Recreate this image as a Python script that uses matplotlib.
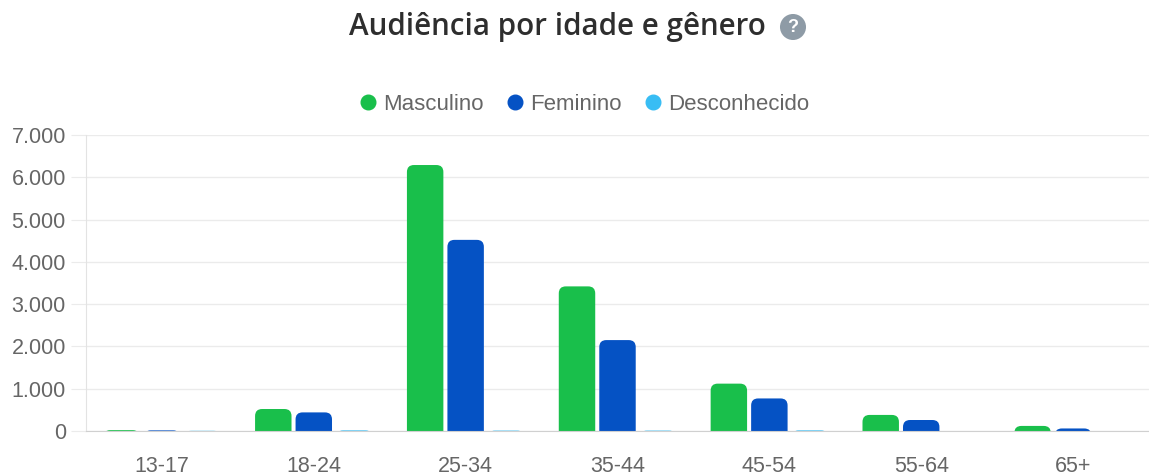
import numpy as np
import matplotlib
matplotlib.use('Agg')
import matplotlib.pyplot as plt
from matplotlib.patches import FancyBboxPatch
from matplotlib.lines import Line2D
from matplotlib.ticker import FuncFormatter

# dados
faixas = ['13-17', '18-24', '25-34', '35-44', '45-54', '55-64', '65+']
masculino = [20, 520, 6290, 3420, 1120, 380, 120]
feminino = [15, 440, 4520, 2150, 770, 260, 60]
desconhecido = [5, 15, 10, 10, 15, 0, 0]
series = ['Masculino', 'Feminino', 'Desconhecido']
cores = ['#19bf4b', '#0552c4', '#38bdf4']

plt.rcParams['font.family'] = ['Liberation Sans', 'DejaVu Sans']

W, H = 1149, 475
fig = plt.figure(figsize=(W / 100, H / 100), dpi=100)
ax = fig.add_axes([86 / W, 1 - 431 / H, (1149 - 86) / W, (431 - 135) / H])

x = np.arange(len(faixas))
largura = 0.8 / 3
raio_px = 7

ax.set_xlim(-0.5, len(faixas) - 0.5)
ax.set_ylim(0, 7000)

# escala px -> dados para cantos arredondados
px_x = (len(faixas)) / ((1149 - 86))
px_y = 7000 / (431 - 135)
aspecto = px_y / px_x

for i, (vals, cor) in enumerate(zip([masculino, feminino, desconhecido], cores)):
    barras = ax.bar(x + (i - 1) * largura, vals, width=largura * 0.9, color='none')
    for b, v in zip(barras, vals):
        r = raio_px * px_x
        bx, bw = b.get_x(), b.get_width()
        p = FancyBboxPatch((bx + r, -raio_px * px_y * 2), bw - 2 * r,
                           v + raio_px * px_y * 2 - r * aspecto,
                           boxstyle='round,pad=%f,rounding_size=%f' % (r, r),
                           mutation_aspect=aspecto, fc=cor, ec='none', zorder=2)
        ax.add_patch(p)
        b.remove()

ax.set_yticks(np.arange(0, 7001, 1000))
ax.yaxis.set_major_formatter(FuncFormatter(lambda v, p: f'{int(v):,}'.replace(',', '.')))
ax.set_xticks(x)
ax.set_xticklabels(faixas)
ax.grid(axis='y', color='#ebebeb', linewidth=1, zorder=0)
ax.set_axisbelow(True)
ax.tick_params(axis='y', length=10.5, color='#ebebeb', labelsize=15.5, labelcolor='#666666', pad=4)
ax.tick_params(axis='x', length=0, labelsize=15.5, labelcolor='#666666', pad=18)
for s in ['top', 'right']:
    ax.spines[s].set_visible(False)
ax.spines['left'].set_color('#e3e3e3')
ax.spines['bottom'].set_color('#d0d0d0')

# legenda
handles = [Line2D([], [], marker='o', ls='none', markersize=10.5, color=c) for c in cores]
fig.legend(handles, series, loc='center', bbox_to_anchor=(583 / W, 1 - 104 / H), ncol=3,
           frameon=False, fontsize=16, labelcolor='#666666', handletextpad=0.2,
           columnspacing=0.9, handlelength=1.0)

# título
fig.text(557 / W, 1 - 27 / H, 'Audiência por idade e gênero', ha='center', va='center',
         fontsize=21.3, fontweight='semibold', color='#2e2e2e', family='Open Sans')
fig.text(793 / W, 1 - 27 / H, '?', ha='center', va='center', fontsize=13, fontweight='bold',
         color='white', bbox=dict(boxstyle='circle,pad=0.25', fc='#8e9ba6', ec='none'))

plt.savefig('out.png', dpi=100)
